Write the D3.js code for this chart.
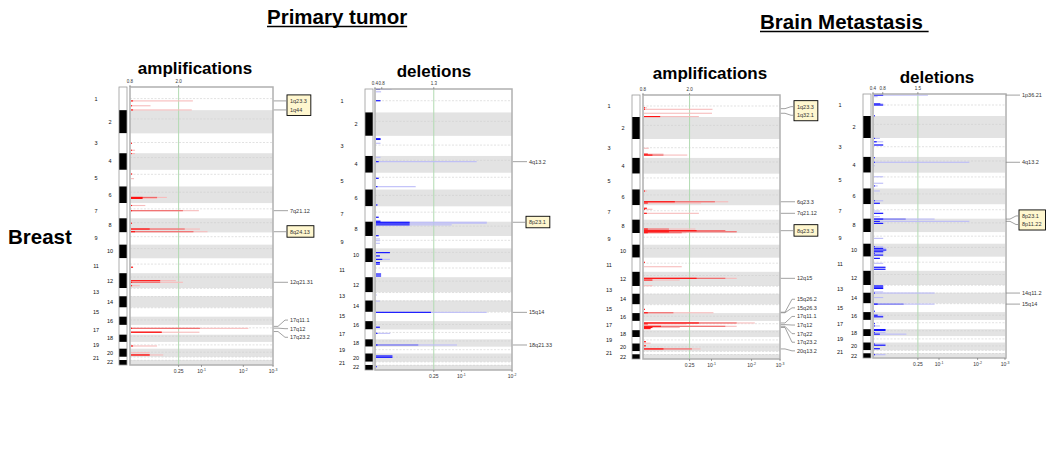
<!DOCTYPE html>
<html>
<head>
<meta charset="utf-8">
<script src="https://cdn.jsdelivr.net/npm/d3@7"></script>
<style>
  body { margin: 0; background: #fff; }
  svg { display: block; font-family: "Liberation Sans", Arial, sans-serif; }
</style>
</head>
<body>
<svg id="chart" width="1060" height="460"></svg>
<script>
// chromosomes and their plotted extent (relative units)
const chromosomes = d3.range(1, 23);
const chromSizes = [23.3, 23.3, 20, 16.7, 16.7, 16.7, 15.3, 14.2, 12.3, 13.7, 15, 15, 8.2, 11.3, 9.2, 8.3, 9.8, 7.3, 6.8, 8.2, 3.2, 5];
const centromereFrac = [0.5, 0.38, 0.46, 0.26, 0.27, 0.35, 0.38, 0.31, 0.35, 0.29, 0.39, 0.26, 0.03, 0.03, 0.03, 0.4, 0.3, 0.22, 0.44, 0.44, 0.05, 0.05];

// bottom axis: q-values
const qTicks = [0.25, 0.1, 0.01, 0.001];
const qTickLabels = [["0.25", ""], ["10", "-1"], ["10", "-2"], ["10", "-3"]];
const qThreshold = 0.25;

// top axis: G-score labels and the q-value they sit at
const ampTopLabels = ["0.8", "2.0"];
const ampTopQ = [1, 0.25];
const ptDelTopLabels = ["0.4", "0.8", "1.3"];
const ptDelTopQ = [1, 0.88, 0.25];
const bmDelTopLabels = ["0.4", "0.8", "1.5"];
const bmDelTopQ = [1, 0.78, 0.25];

// bars: [chromosome, position in chromosome (0-1), -log10 q full, strong part, strongest part]
const ptAmpBars = [
  [1, 0.60, 0.84, 0, 0.03], [1, 0.81, 0.22, 0, 0.02], [1, 0.99, 0.82, 0, 0.03],
  [3, 0.50, 0.02, 0, 0.02], [3, 0.85, 0.05, 0, 0.02], [4, 0.02, 0.05, 0, 0.01],
  [5, 0.25, 0.025, 0, 0.02], [5, 0.53, 0.04, 0, 0],
  [6, 0.66, 0.43, 0.3, 0.13], [6, 0.72, 0.3, 0, 0.13],
  [7, 0.16, 0.16, 0, 0.02], [7, 0.50, 0.95, 0.67, 0.02],
  [8, 0.35, 0.02, 0, 0.02], [8, 0.76, 0.97, 0.7, 0.21], [8, 0.95, 1.12, 0.85, 0.05],
  [11, 0.60, 0.03, 0, 0.03],
  [12, 0.50, 0.56, 0, 0.34], [12, 0.61, 0.67, 0.34, 0.02], [12, 0.84, 0.10, 0, 0.02],
  [17, 0.35, 2.15, 0.97, 0.02], [17, 0.75, 0.96, 0.36, 0.36],
  [19, 0.60, 0.30, 0, 0.03], [20, 0.49, 0.21, 0, 0], [20, 0.77, 0.38, 0.21, 0.21]
];
const ptDelBars = [
  [1, 0.02, 0.143, 0, 0.041], [1, 0.12, 0.05, 0, 0], [1, 0.5, 0.045, 0, 0.045],
  [3, 0.14, 0.045, 0, 0.045], [3, 0.18, 0.045, 0, 0.045], [3, 0.37, 0.045, 0, 0],
  [4, 0.08, 0.045, 0, 0], [4, 0.34, 1.26, 0, 0.03],
  [5, 0.33, 0.03, 0, 0.03], [5, 0.83, 0.386, 0, 0.02],
  [6, 0.92, 0.02, 0, 0.02], [7, 0.71, 0.03, 0, 0.03], [7, 0.97, 0.045, 0, 0.045],
  [8, 0.04, 1.45, 0, 0.32], [8, 0.1, 1.45, 0, 0.32], [8, 0.22, 0.85, 0, 0.32], [8, 0.98, 0.03, 0, 0.03],
  [9, 0.24, 0.04, 0, 0], [9, 0.38, 0.04, 0, 0], [9, 0.59, 0.04, 0, 0],
  [10, 0.31, 0.127, 0, 0.127], [10, 0.55, 0.04, 0, 0.04], [10, 0.8, 0.127, 0, 0.06],
  [11, 0.03, 0.04, 0, 0.04], [11, 0.13, 0.04, 0, 0.04], [11, 0.79, 0.05, 0, 0.05], [11, 0.92, 0.05, 0, 0.05],
  [13, 0.33, 0.015, 0, 0], [14, 0.05, 0.04, 0, 0],
  [15, 0.05, 1.45, 0, 0.567], [16, 0.73, 0.04, 0, 0.04], [17, 0.39, 0.13, 0, 0.02],
  [18, 0.77, 0.93, 0.415, 0.02],
  [20, 0.3, 0.15, 0, 0.15], [20, 0.46, 0.15, 0, 0.15], [22, 0.34, 0.01, 0, 0.01]
];
const bmAmpBars = [
  [1, 0.58, 0.04, 0, 0.02], [1, 0.65, 1.02, 0, 0.02], [1, 0.83, 1.01, 0, 0], [1, 0.98, 0.76, 0, 0.19],
  [3, 0.49, 0.06, 0, 0], [3, 0.8, 0.23, 0, 0.05], [3, 0.85, 0.565, 0.23, 0.1],
  [6, 0.1, 0.04, 0, 0.02], [6, 0.78, 1.37, 1.07, 0.38], [6, 0.86, 0.8, 0, 0.05],
  [7, 0.21, 0.04, 0, 0.04], [7, 0.28, 0.1, 0, 0.02], [7, 0.56, 0.76, 0, 0.04],
  [8, 0.7, 0.7, 0.3, 0.05], [8, 0.82, 1.3, 1.3, 0.72], [8, 0.9, 1.58, 1.58, 0.3], [8, 0.97, 0.55, 0.48, 0.05],
  [11, 0.33, 0.02, 0, 0.02], [11, 0.64, 0.48, 0, 0],
  [12, 0.46, 1.58, 1.3, 0.72], [12, 0.58, 0.45, 0, 0.1], [12, 0.98, 0.1, 0, 0],
  [15, 0.57, 0.02, 0, 0.02], [15, 0.96, 1.04, 0.36, 0.05],
  [17, 0.22, 2.1, 1.58, 0.76], [17, 0.32, 0.55, 0, 0.05], [17, 0.58, 1.58, 1.3, 0.2],
  [17, 0.71, 0.45, 0, 0.1], [17, 0.83, 0.08, 0, 0.08],
  [19, 0.72, 0.03, 0, 0.03], [19, 0.95, 0.08, 0, 0],
  [20, 0.3, 0.03, 0, 0.03], [20, 0.7, 0.79, 0.64, 0.23]
];
const bmDelBars = [
  [1, 0.05, 0.78, 0, 0.113], [1, 0.12, 0.05, 0, 0], [1, 0.45, 0.113, 0, 0.08], [1, 0.5, 0.113, 0, 0.113], [1, 0.99, 0.02, 0, 0.02],
  [3, 0.02, 0.075, 0, 0.02], [3, 0.2, 0.113, 0, 0.04], [3, 0.37, 0.113, 0, 0.113],
  [4, 0.05, 0.02, 0, 0.02], [4, 0.34, 1.75, 0, 0.02], [4, 0.56, 0.02, 0, 0],
  [5, 0.26, 0.113, 0, 0], [5, 0.67, 0.113, 0, 0], [5, 0.84, 0.05, 0, 0.02],
  [6, 0.16, 0.075, 0, 0], [6, 0.78, 0.113, 0, 0.02], [6, 0.94, 0.075, 0, 0.075],
  [7, 0.47, 0.075, 0, 0], [7, 0.63, 0.113, 0, 0.113], [7, 0.86, 0.075, 0, 0],
  [8, 0.03, 0.91, 0.41, 0.113], [8, 0.2, 1.75, 0, 0.075], [8, 0.35, 0.113, 0, 0.113],
  [9, 0.54, 0.113, 0, 0],
  [10, 0.23, 0.113, 0, 0.02], [10, 0.36, 0.15, 0, 0.113], [10, 0.49, 0.15, 0, 0.15],
  [10, 0.62, 0.13, 0, 0.113], [10, 0.74, 0.113, 0, 0.02], [10, 0.88, 0.113, 0, 0.113],
  [11, 0.12, 0.075, 0, 0.075], [11, 0.47, 0.113, 0, 0], [11, 0.75, 0.14, 0, 0.14], [11, 0.89, 0.14, 0, 0.14],
  [13, 0.12, 0.113, 0, 0.113], [13, 0.28, 0.113, 0, 0.113], [13, 0.45, 0.113, 0, 0.113], [13, 0.9, 0.113, 0, 0],
  [14, 0.03, 0.91, 0, 0.02], [14, 0.45, 0.113, 0, 0],
  [15, 0.08, 0.91, 0.38, 0.05], [15, 0.9, 0.02, 0, 0.02],
  [16, 0.4, 0.113, 0, 0.05], [16, 0.6, 0.113, 0, 0.113],
  [17, 0.4, 0.02, 0, 0.02], [17, 0.65, 0.075, 0, 0.02],
  [18, 0.05, 0.14, 0, 0.14], [18, 0.18, 0.14, 0, 0.14], [18, 0.5, 0.14, 0, 0.02], [18, 0.72, 0.42, 0, 0.075],
  [20, 0.2, 0.14, 0, 0.02], [20, 0.35, 0.14, 0, 0.14], [20, 0.8, 0.075, 0, 0.075],
  [22, 0.3, 0.14, 0, 0.02]
];

// peak labels: [cytoband, chromosome, position in chromosome, highlighted]
const ptAmpPeaks = [
  ["1q23.3", 1, 0.60, true], ["1q44", 1, 0.99, true], ["7q21.12", 7, 0.50, false],
  ["8q24.13", 8, 0.95, true], ["12q21.31", 12, 0.61, false],
  ["17q11.1", 17, 0.15, false], ["17q12", 17, 0.33, false], ["17q23.2", 17, 0.68, false]
];
const ptDelPeaks = [
  ["4q13.2", 4, 0.34, false], ["8p23.1", 8, 0.04, true], ["15q14", 15, 0.05, false], ["18q21.33", 18, 0.77, false]
];
const bmAmpPeaks = [
  ["1q23.3", 1, 0.62, true], ["1q32.1", 1, 0.83, true], ["6q23.3", 6, 0.78, false], ["7q21.12", 7, 0.56, false],
  ["8q23.3", 8, 0.82, true], ["12q15", 12, 0.46, false], ["15q26.2", 15, 0.9, false], ["15q26.3", 15, 0.96, false],
  ["17q11.1", 17, 0.22, false], ["17q12", 17, 0.4, false], ["17q22", 17, 0.58, false], ["17q23.2", 17, 0.71, false],
  ["20q13.2", 20, 0.7, false]
];
const bmDelPeaks = [
  ["1p36.21", 1, 0.05, false], ["4q13.2", 4, 0.34, false], ["8p23.1", 8, 0.03, true],
  ["8p11.22", 8, 0.2, true], ["14q11.2", 14, 0.03, false], ["15q14", 15, 0.08, false]
];

const colors = {
  amp: ["#f7bcbc", "#f06868", "#ff1010"],
  del: ["#bcbcf8", "#7070ee", "#1010ff"]
};

const panels = [
  { kind: "amp", title: "amplifications", titleX: 195, titleY: 74, bars: ptAmpBars, peaks: ptAmpPeaks,
    ideoX: 119, x0: 130, x1: 273, top: 87, bottom: 365, axisMax: 3, topLabels: ampTopLabels, topQ: ampTopQ },
  { kind: "del", title: "deletions", titleX: 434, titleY: 77, bars: ptDelBars, peaks: ptDelPeaks,
    ideoX: 365, x0: 375, x1: 512, top: 89, bottom: 370, axisMax: 2, topLabels: ptDelTopLabels, topQ: ptDelTopQ },
  { kind: "amp", title: "amplifications", titleX: 710, titleY: 79, bars: bmAmpBars, peaks: bmAmpPeaks,
    ideoX: 632, x0: 643, x1: 780, top: 95, bottom: 359, axisMax: 3, topLabels: ampTopLabels, topQ: ampTopQ },
  { kind: "del", title: "deletions", titleX: 937, titleY: 83, bars: bmDelBars, peaks: bmDelPeaks,
    ideoX: 863, x0: 873, x1: 1005, top: 94, bottom: 358, axisMax: 3, topLabels: bmDelTopLabels, topQ: bmDelTopQ }
];

const svg = d3.select("#chart");

// headings
function heading(text, x, y, size) {
  const t = svg.append("text").attr("x", x).attr("y", y)
    .style("font-size", size + "px").style("font-weight", "bold").style("white-space", "pre")
    .text(text);
  const w = t.node().getComputedTextLength();
  svg.append("line").attr("x1", x).attr("x2", x + w).attr("y1", y + 2.5).attr("y2", y + 2.5)
    .attr("stroke", "#000").attr("stroke-width", 1.6);
}
heading("Primary tumor", 267, 24, 20.5);
heading("Brain Metastasis ", 760, 29, 20.5);

svg.append("text").attr("x", 8).attr("y", 244)
  .style("font-size", "20.5px").style("font-weight", "bold").text("Breast");

const starts = d3.cumsum([0, ...chromSizes]);
const totalSize = d3.sum(chromSizes);

panels.forEach(p => {
  const g = svg.append("g");
  const y = d3.scaleLinear().domain([0, totalSize]).range([p.top, p.bottom]);
  const x = d3.scaleLog().domain([1, 1 + p.axisMax]).range([p.x0, p.x1]);
  const xv = v => x(1 + v);
  const yPos = (c, f) => y(starts[c - 1] + f * chromSizes[c - 1]);
  const col = colors[p.kind];

  g.append("text").attr("x", p.titleX).attr("y", p.titleY).attr("text-anchor", "middle")
    .style("font-size", "17px").style("font-weight", "bold").text(p.title);

  // chromosome bands
  g.selectAll(".band").data(chromosomes.filter(c => c % 2 === 0)).enter().append("rect")
    .attr("x", p.x0).attr("width", p.x1 - p.x0)
    .attr("y", c => y(starts[c - 1])).attr("height", c => y(starts[c]) - y(starts[c - 1]))
    .attr("fill", "#e3e3e3");

  // centromere lines
  g.selectAll(".cen").data(chromosomes).enter().append("line")
    .attr("x1", p.x0).attr("x2", p.x1)
    .attr("y1", c => yPos(c, centromereFrac[c - 1])).attr("y2", c => yPos(c, centromereFrac[c - 1]))
    .attr("stroke", "#cfcfcf").attr("stroke-width", 0.6).attr("stroke-dasharray", "2,1.5");

  // ideogram
  g.selectAll(".ideo").data(chromosomes).enter().append("rect")
    .attr("x", p.ideoX).attr("width", 8)
    .attr("y", c => y(starts[c - 1])).attr("height", c => y(starts[c]) - y(starts[c - 1]))
    .attr("fill", c => c % 2 === 0 ? "#000" : "#fff");
  g.append("rect").attr("x", p.ideoX).attr("y", p.top).attr("width", 8).attr("height", p.bottom - p.top)
    .attr("fill", "none").attr("stroke", "#999").attr("stroke-width", 0.8);

  // chromosome numbers
  g.selectAll(".cnum").data(chromosomes).enter().append("text")
    .attr("x", c => c % 2 === 0 ? p.ideoX - 9 : p.ideoX - 23)
    .attr("y", c => y(starts[c - 1] + chromSizes[c - 1] / 2)).attr("dy", "0.35em")
    .attr("text-anchor", "middle").style("font-size", "5.5px").attr("fill", "#111")
    .text(c => c);

  // significance threshold
  const xt = xv(-Math.log10(qThreshold));
  g.append("line").attr("x1", xt).attr("x2", xt).attr("y1", p.top).attr("y2", p.bottom)
    .attr("stroke", "#b2dab2").attr("stroke-width", 1);

  // bars: light full extent, then stronger parts
  [2, 3, 4].forEach((k, i) => {
    g.selectAll(".bar" + k).data(p.bars.filter(d => d[k] > 0)).enter().append("rect")
      .attr("x", p.x0 + 1).attr("y", d => yPos(d[0], d[1]) - 0.55)
      .attr("width", d => Math.max(0.8, xv(d[k]) - p.x0 - 1)).attr("height", 1.1)
      .attr("fill", col[i]);
  });

  // frame
  g.append("rect").attr("x", p.x0).attr("y", p.top).attr("width", p.x1 - p.x0 + (p.axisMax === 3 && p.kind === "del" ? 1 : 0))
    .attr("height", p.bottom - p.top).attr("fill", "none").attr("stroke", "#b0b0b0").attr("stroke-width", 1.5);

  // top ticks
  p.topLabels.forEach((lab, i) => {
    const tx = xv(-Math.log10(p.topQ[i]));
    g.append("text").attr("x", tx).attr("y", p.top - 4).attr("text-anchor", "middle")
      .style("font-size", "4.5px").attr("fill", "#333").text(lab);
    g.append("line").attr("x1", tx).attr("x2", tx).attr("y1", p.top - 2).attr("y2", p.top)
      .attr("stroke", "#666").attr("stroke-width", 0.6);
  });

  // bottom ticks
  qTicks.forEach((q, i) => {
    const v = -Math.log10(q);
    if (v > p.axisMax + 1e-9) return;
    const tx = xv(v);
    g.append("line").attr("x1", tx).attr("x2", tx).attr("y1", p.bottom).attr("y2", p.bottom + 2)
      .attr("stroke", "#666").attr("stroke-width", 0.6);
    const t = g.append("text").attr("x", tx).attr("y", p.bottom + 8).attr("text-anchor", "middle")
      .style("font-size", "5px").attr("fill", "#333");
    t.append("tspan").text(qTickLabels[i][0]);
    if (qTickLabels[i][1]) t.append("tspan").attr("dy", -2).style("font-size", "3.5px").text(qTickLabels[i][1]);
  });

  // peak labels with simple spreading
  const items = p.peaks.map(([label, c, f, boxed]) => ({ label, boxed, py: yPos(c, f), ly: yPos(c, f) }))
    .sort((a, b) => a.py - b.py);
  const gap = 8.6;
  for (let it = 0; it < 300; it++) {
    for (let i = 1; i < items.length; i++) {
      const d = items[i].ly - items[i - 1].ly;
      if (d < gap) { const s = (gap - d) / 2; items[i].ly += s; items[i - 1].ly -= s; }
    }
  }
  const textX = p.x1 + 17;
  const texts = items.map(it => g.append("text").attr("x", textX).attr("y", it.ly).attr("dy", "0.35em")
    .style("font-size", "5.5px").attr("fill", "#333").text(it.label));

  // highlight boxes around consecutive highlighted labels
  let i = 0;
  while (i < items.length) {
    if (!items[i].boxed) { i++; continue; }
    let j = i;
    while (j + 1 < items.length && items[j + 1].boxed) j++;
    const w = d3.max(d3.range(i, j + 1), k => texts[k].node().getComputedTextLength());
    g.insert("rect", "text:last-of-type")
      .attr("x", textX - 3).attr("y", items[i].ly - 6).attr("width", w + 7).attr("height", items[j].ly - items[i].ly + 11.5)
      .attr("fill", "#fff7cf").attr("stroke", "#000").attr("stroke-width", 0.9);
    i = j + 1;
  }
  texts.forEach(t => t.raise());

  items.forEach(it => {
    const endX = it.boxed ? textX - 3 : textX - 2;
    g.append("polyline")
      .attr("points", [[p.x1 + 0.8, it.py], [p.x1 + 5, it.py], [endX - 3, it.ly], [endX, it.ly]].map(d => d.join(",")).join(" "))
      .attr("fill", "none").attr("stroke", "#8a8a8a").attr("stroke-width", 0.8);
  });
});
</script>
</body>
</html>
